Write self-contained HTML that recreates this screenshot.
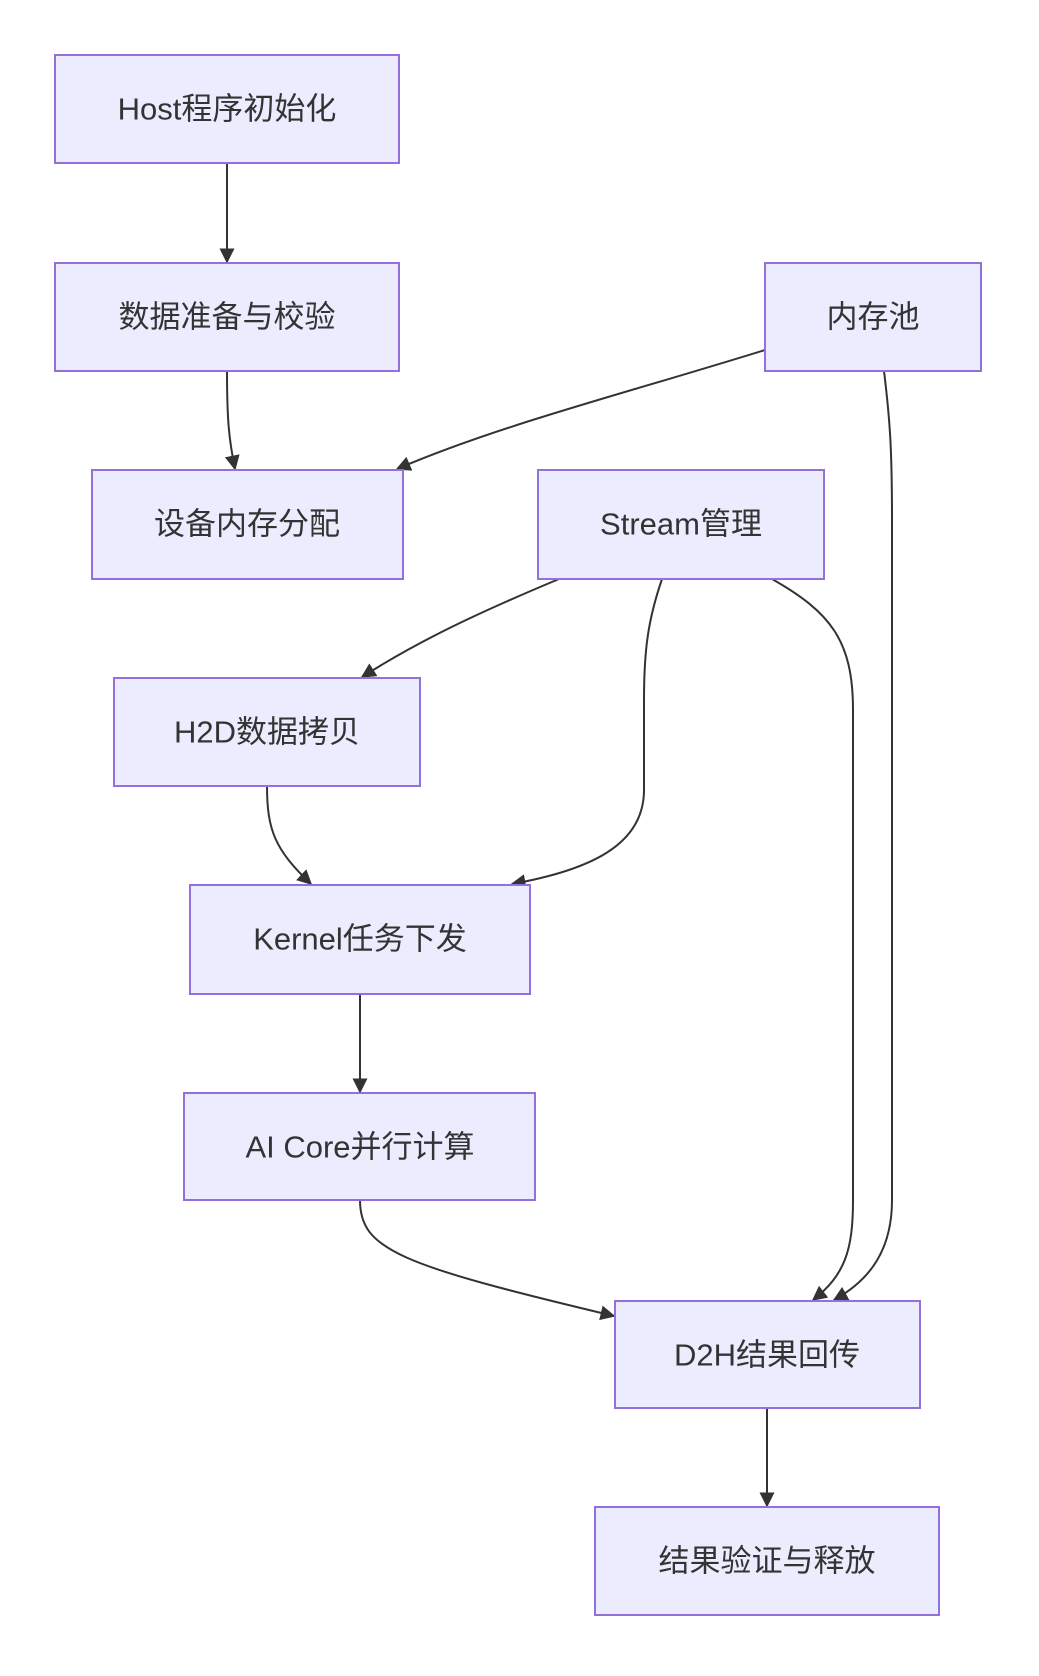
<!DOCTYPE html>
<html><head><meta charset="utf-8"><style>
html,body{margin:0;padding:0;background:#fff;}
svg{display:block;}
text{font-family:"Liberation Sans","Noto Sans CJK SC",sans-serif;font-size:31px;fill:#333;text-anchor:middle;dominant-baseline:central;}
rect{fill:#ECECFF;stroke:#9370DB;stroke-width:2;}
path.e{fill:none;stroke:#333;stroke-width:2;}
</style></head><body>
<svg width="1039" height="1676" viewBox="0 0 1039 1676" xmlns="http://www.w3.org/2000/svg">
<defs><marker id="a" viewBox="0 0 10 10" refX="9" refY="5" markerWidth="15" markerHeight="15" markerUnits="userSpaceOnUse" orient="auto"><path d="M0,0L10,5L0,10z" fill="#333"/></marker></defs>
<g>
<path class="e" marker-end="url(#a)" d="M227,163 L227,262"/>
<path class="e" marker-end="url(#a)" d="M227,371 C227,420 229,440 235,469"/>
<path class="e" marker-end="url(#a)" d="M765,350 C620,395 500,425 397,469"/>
<path class="e" marker-end="url(#a)" d="M884,371 C890,420 892,450 892,520 L892,1200 C892,1250 870,1280 834,1300"/>
<path class="e" marker-end="url(#a)" d="M559,579 C480,612 420,640 362,677"/>
<path class="e" marker-end="url(#a)" d="M662,579 C648,620 644,650 644,700 L644,790 C644,845 590,870 512,884"/>
<path class="e" marker-end="url(#a)" d="M772,579 C830,612 853,640 853,710 L853,1200 C853,1250 845,1275 813,1300"/>
<path class="e" marker-end="url(#a)" d="M267,786 C267,830 275,850 311,884"/>
<path class="e" marker-end="url(#a)" d="M360,994 L360,1092"/>
<path class="e" marker-end="url(#a)" d="M360,1200 C360,1250 400,1265 614,1316"/>
<path class="e" marker-end="url(#a)" d="M767,1408 L767,1506"/>
</g>
<rect x="55" y="55" width="344" height="108"/><text x="227" y="109">Host程序初始化</text>
<rect x="55" y="263" width="344" height="108"/><text x="227" y="317">数据准备与校验</text>
<rect x="765" y="263" width="216" height="108"/><text x="873" y="317">内存池</text>
<rect x="92" y="470" width="311" height="109"/><text x="247" y="524">设备内存分配</text>
<rect x="538" y="470" width="286" height="109"/><text x="681" y="524">Stream管理</text>
<rect x="114" y="678" width="306" height="108"/><text x="267" y="732">H2D数据拷贝</text>
<rect x="190" y="885" width="340" height="109"/><text x="360" y="939">Kernel任务下发</text>
<rect x="184" y="1093" width="351" height="107"/><text x="360" y="1147">AI Core并行计算</text>
<rect x="615" y="1301" width="305" height="107"/><text x="767" y="1355">D2H结果回传</text>
<rect x="595" y="1507" width="344" height="108"/><text x="767" y="1561">结果验证与释放</text>
</svg>
</body></html>
